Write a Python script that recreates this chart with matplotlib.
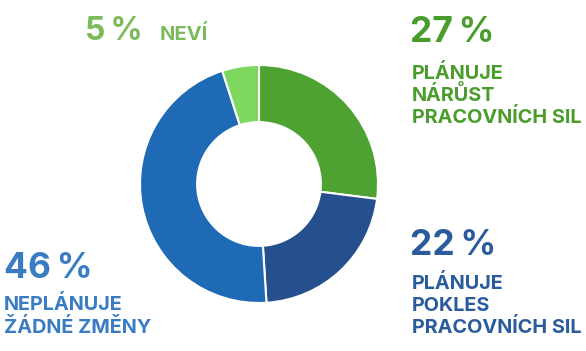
import matplotlib
matplotlib.use("Agg")
import matplotlib.pyplot as plt

# data, clockwise from 12 o'clock
labels = ["PLÁNUJE\nNÁRŮST\nPRACOVNÍCH SIL", "PLÁNUJE\nPOKLES\nPRACOVNÍCH SIL",
          "NEPLÁNUJE\nŽÁDNÉ ZMĚNY", "NEVÍ"]
values = [27, 22, 46, 5]
colors = ["#4da232", "#264f8d", "#1f6ab5", "#7ed75e"]
text_colors = ["#4a9d2c", "#2a5b9b", "#3a7cc2", "#7cba5c"]

W, H = 586, 351
fig = plt.figure(figsize=(W / 100, H / 100), dpi=100)

cx, cy, r = 259, 184, 119
ax = fig.add_axes([(cx - r) / W, 1 - (cy + r) / H, 2 * r / W, 2 * r / H])
ax.pie(values, colors=colors, startangle=90, counterclock=False, radius=1,
       wedgeprops=dict(width=0.48, edgecolor="white", linewidth=1.5))
ax.set_xlim(-1, 1)
ax.set_ylim(-1, 1)
ax.set_aspect("equal")
ax.axis("off")

font = ["Inter", "DejaVu Sans"]


def px(x, y):
    return x / W, 1 - y / H


def big(x, y, s, c, size=25.5):
    fig.text(*px(x, y), s, color=c, fontsize=size, fontweight="bold",
             family=font, va="baseline", ha="left")


def small(x, y, s, c, size=14.3):
    fig.text(*px(x, y), s, color=c, fontsize=size, fontweight="bold",
             family=font, va="baseline", ha="left")


pct = "\u2009%"

big(410, 42, f"{values[0]}{pct}", text_colors[0])
for i, line in enumerate(labels[0].split("\n")):
    small(412, 79 + 22 * i, line, text_colors[0])

big(410, 255, f"{values[1]}{pct}", text_colors[1])
for i, line in enumerate(labels[1].split("\n")):
    small(412, 289 + 22 * i, line, text_colors[1])

big(4, 278, f"{values[2]}{pct}", text_colors[2])
for i, line in enumerate(labels[2].split("\n")):
    small(4, 310 + 23 * i, line, text_colors[2])

big(85, 40, f"{values[3]}{pct}", text_colors[3], size=23)
small(160, 40, labels[3], text_colors[3], size=14.5)

fig.savefig("out.png", dpi=100, facecolor="white")
